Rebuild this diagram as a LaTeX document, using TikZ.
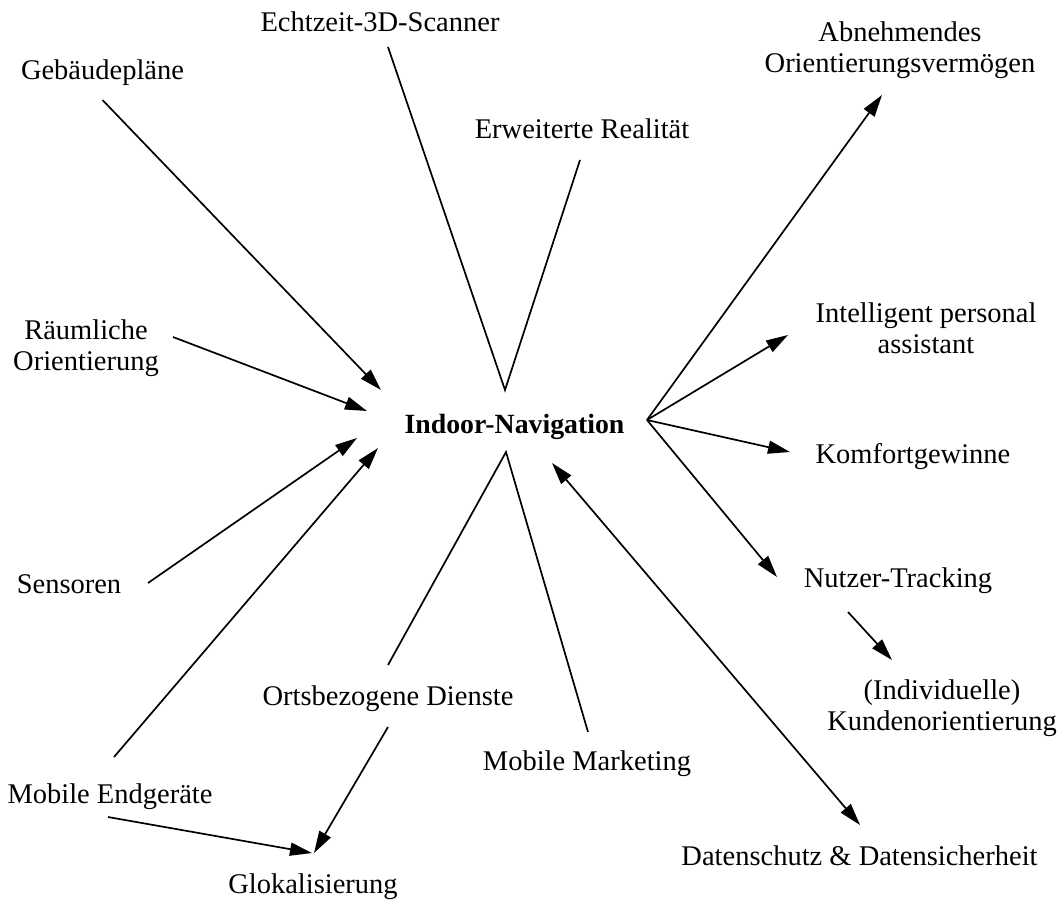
\documentclass[tikz,border=0pt]{standalone}
\usepackage{fontspec}
\setmainfont{Liberation Serif}
\usetikzlibrary{arrows.meta,calc}
\begin{document}
\begin{tikzpicture}[x=1pt,y=-1pt,
  lbl/.style={align=center,inner sep=0pt,anchor=base,font=\fontsize{28.5}{31}\selectfont},
  ln/.style={line width=1.7pt},
  arr/.style={ln,-{Triangle[length=22pt,width=13pt]}},
  darr/.style={ln,{Triangle[length=22pt,width=13pt]}-{Triangle[length=22pt,width=13pt]}}]
\useasboundingbox (0,0) rectangle (1062,899);
\node[lbl,font=\fontsize{27.8}{31}\selectfont\bfseries] (indoor) at (514.5,433) {Indoor-Navigation};
\node[lbl] (geb) at (102.5,79) {Gebäudepläne};
\node[lbl] (echt) at (380,32) {Echtzeit-3D-Scanner};
\node[lbl] (erw) at (582,138) {Erweiterte Realität};
\node[lbl] (abn) at (900,72) {Abnehmendes\\Orientierungsvermögen};
\node[lbl] (raum) at (86,370) {Räumliche\\Orientierung};
\node[lbl] (intel) at (926,353) {Intelligent personal\\assistant};
\node[lbl] (komf) at (913,463) {Komfortgewinne};
\node[lbl] (sens) at (69,593) {Sensoren};
\node[lbl] (nutz) at (898,587) {Nutzer-Tracking};
\node[lbl] (kund) at (942,730) {(Individuelle)\\Kundenorientierung};
\node[lbl] (orts) at (388,705) {Ortsbezogene Dienste};
\node[lbl] (mm) at (587,770) {Mobile Marketing};
\node[lbl] (med) at (110,803) {Mobile Endgeräte};
\node[lbl] (glok) at (313,893) {Glokalisierung};
\node[lbl] (dat) at (859.5,865) {Datenschutz \& Datensicherheit};
% apex points above and below the centre node, and the common start on its right
\coordinate (top) at ($(indoor.base)+(-9.5,-43)$);
\coordinate (bot) at ($(indoor.base)+(-8.5,19)$);
\coordinate (rgt) at ($(indoor.base)+(132.5,-13)$);
% incoming arrows
\draw[arr] ($(geb.base)+(0,21)$) -- ($(indoor.base)+(-133.5,-43)$);
\draw[arr] ($(raum.base)+(87,-33)$) -- ($(indoor.base)+(-147.5,-22)$);
\draw[arr] ($(sens.base)+(79,-10)$) -- ($(indoor.base)+(-157.5,5)$);
\draw[arr] ($(med.base)+(4,-46)$) -- ($(indoor.base)+(-136.5,15)$);
% V shapes
\draw[ln] ($(echt.base)+(8,15)$) -- (top) -- ($(erw.base)+(-2,22)$);
\draw[ln] ($(orts.base)+(0,-40)$) -- (bot) -- ($(mm.base)+(1,-38)$);
% outgoing arrows
\draw[arr] (rgt) -- ($(abn.base)+(-18,23)$);
\draw[arr] (rgt) -- ($(intel.base)+(-138,-18)$);
\draw[arr] (rgt) -- ($(komf.base)+(-123,-11)$);
\draw[arr] (rgt) -- ($(nutz.base)+(-121,-10)$);
\draw[arr] ($(nutz.base)+(-50,25)$) -- ($(kund.base)+(-50,-70)$);
\draw[darr] ($(indoor.base)+(37.5,30)$) -- ($(dat.base)+(0.5,-40)$);
% Glokalisierung
\draw[arr] ($(med.base)+(-2,14)$) -- ($(glok.base)+(-1,-40)$);
\draw[arr] ($(orts.base)+(0,22)$) -- ($(glok.base)+(1,-40)$);
\end{tikzpicture}
\end{document}
